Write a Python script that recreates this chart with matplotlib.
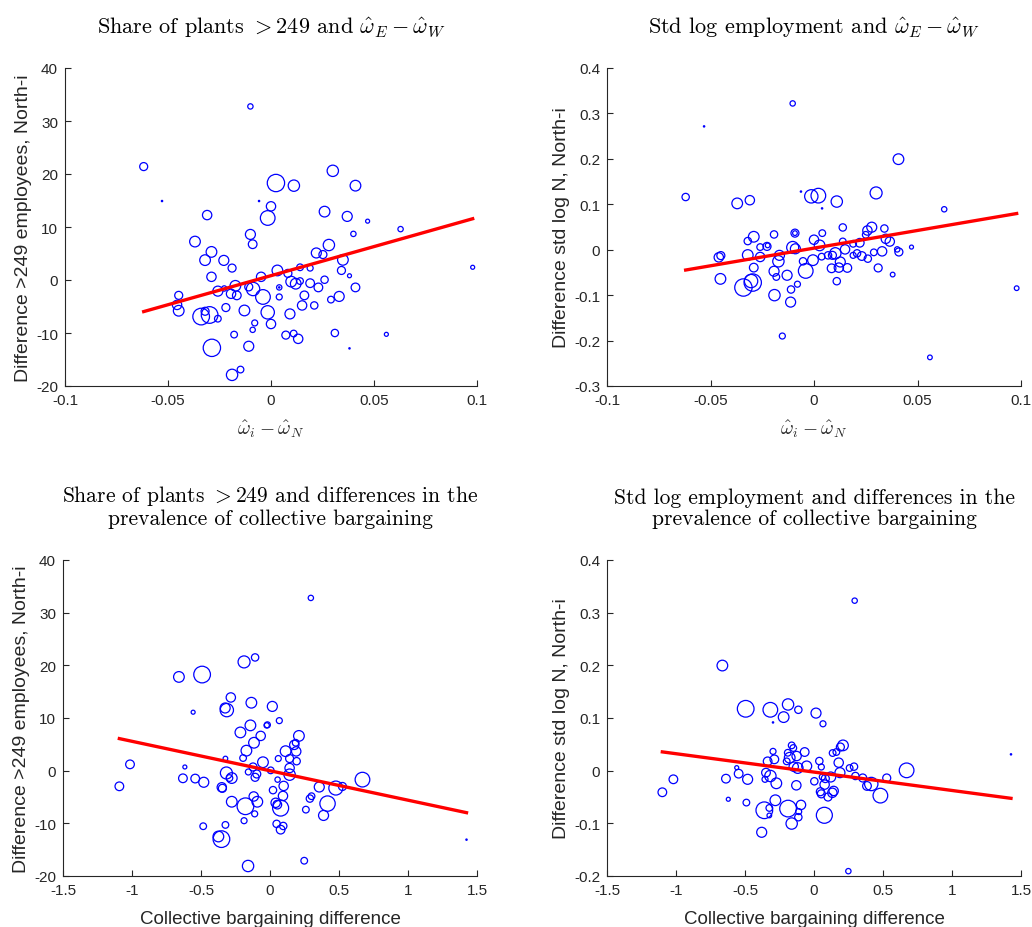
import matplotlib
matplotlib.use("Agg")
import matplotlib.pyplot as plt
import numpy as np

plt.rcParams['font.family'] = ['Liberation Sans', 'DejaVu Sans']
plt.rcParams['mathtext.fontset'] = 'cm'
plt.rcParams['axes.unicode_minus'] = False

# panel 1: share of plants >249 vs omega difference  (x, y, bubble weight)
tl = [
    (-0.010, 32.75, 8), (-0.0618, 21.4, 12), (-0.0529, 14.9, 2), (-0.0058, 14.9, 2),
    (-0.031, 12.25, 14), (-0.010, 8.6, 15), (-0.0089, 6.75, 13), (-0.0369, 7.25, 16),
    (-0.0289, 5.3, 16), (-0.032, 3.75, 16), (-0.0229, 3.7, 15), (-0.0189, 2.25, 12),
    (-0.0289, 0.6, 14), (-0.0048, 0.6, 14), (-0.0258, -2.1, 15), (-0.0227, -1.6, 8),
    (-0.0173, -1.1, 16), (-0.0194, -2.6, 14), (-0.0166, -2.9, 13), (-0.0108, -1.3, 12),
    (-0.0087, -1.7, 20), (-0.0039, -3.2, 22), (-0.0448, -2.9, 12), (-0.0456, -4.7, 14),
    (-0.0448, -5.8, 16), (-0.0339, -6.9, 25), (-0.0298, -6.6, 25), (-0.032, -5.9, 12),
    (-0.0258, -7.3, 10), (-0.0219, -5.2, 12), (-0.0129, -5.75, 16), (-0.0016, -6.1, 20),
    (-0.0079, -8.1, 9), (-0.0089, -9.4, 8), (0.0, -8.3, 14), (-0.0179, -10.3, 10),
    (-0.0108, -12.5, 15), (-0.0287, -12.8, 26), (-0.0189, -17.9, 17), (-0.0148, -16.9, 10),
    (0.030, 20.6, 17), (0.0024, 18.3, 26), (0.0111, 17.8, 17), (0.041, 17.8, 16),
    (0.0, 13.9, 14), (-0.0016, 11.7, 22), (0.026, 12.9, 16), (0.037, 12.0, 15),
    (0.0469, 11.1, 6), (0.0629, 9.6, 8), (0.040, 8.7, 8), (0.0281, 6.6, 17),
    (0.022, 5.1, 15), (0.0252, 4.8, 12), (0.0349, 3.8, 16), (0.0342, 1.8, 12),
    (0.0381, 0.8, 6), (0.0141, 2.4, 10), (0.019, 2.25, 9), (0.0031, 1.8, 16),
    (0.0082, 1.25, 12), (0.0098, -0.3, 16), (0.012, -0.7, 16), (0.0141, -0.2, 10),
    (0.019, -0.6, 13), (0.023, -1.4, 13), (0.026, 0.05, 11), (0.004, -1.4, 8),
    (0.004, -1.4, 2), (0.004, -3.2, 9), (0.0162, -2.9, 13), (0.0151, -4.8, 14),
    (0.021, -4.8, 11), (0.0291, -3.7, 10), (0.0331, -3.1, 15), (0.041, -1.4, 13),
    (0.0092, -6.4, 15), (0.0072, -10.4, 12), (0.011, -10.1, 10), (0.0132, -11.1, 14),
    (0.031, -10.0, 11), (0.056, -10.25, 6), (0.0381, -12.9, 2), (0.0979, 2.4, 6),
]

# panel 2: std log employment vs omega difference
tr = [
    (-0.0103, 0.322, 8), (-0.0531, 0.2715, 2), (-0.062, 0.116, 11), (-0.0371, 0.102, 16),
    (-0.031, 0.109, 14), (-0.0063, 0.128, 2), (-0.0291, 0.0285, 16), (-0.032, 0.019, 11),
    (-0.0193, 0.0336, 11), (-0.0092, 0.0365, 12), (-0.0092, 0.0365, 7), (-0.026, 0.0058, 10),
    (-0.0227, 0.0073, 12), (-0.0224, 0.0095, 7), (-0.0103, 0.005, 18), (-0.009, 0.002, 15),
    (-0.046, -0.0168, 14), (-0.045, -0.013, 12), (-0.032, -0.0117, 16), (-0.026, -0.016, 14),
    (-0.0167, -0.0124, 15), (-0.0172, -0.0255, 17), (-0.0053, -0.0255, 11), (-0.0291, -0.0394, 13),
    (-0.0193, -0.0474, 15), (-0.0182, -0.060, 10), (-0.013, -0.0562, 15), (-0.004, -0.0467, 22),
    (-0.0452, -0.0642, 16), (-0.0341, -0.0832, 26), (-0.0296, -0.0723, 26), (-0.0304, -0.069, 20),
    (-0.008, -0.0759, 9), (-0.0111, -0.0876, 11), (-0.0191, -0.100, 17), (-0.0113, -0.1153, 15),
    (-0.0153, -0.19, 9),
    (0.0408, 0.1993, 16), (0.0021, 0.119, 22), (-0.0013, 0.1175, 20), (0.011, 0.106, 17),
    (0.030, 0.125, 18), (0.0039, 0.091, 2), (0.0629, 0.089, 8), (0.0139, 0.049, 11),
    (0.004, 0.0365, 10), (0.0, 0.022, 14), (0.0027, 0.0095, 16), (0.0139, 0.0182, 10),
    (0.0279, 0.0496, 15), (0.0258, 0.0423, 14), (0.025, 0.0328, 10), (0.034, 0.0467, 11),
    (0.0347, 0.024, 14), (0.0366, 0.018, 14), (0.0221, 0.0153, 13), (0.015, 0.0007, 14),
    (0.0189, 0.013, 10), (0.0037, -0.0153, 10), (0.0068, -0.0124, 11), (0.0089, -0.0124, 12),
    (0.0103, -0.008, 17), (0.0189, -0.0124, 9), (0.0208, -0.008, 11), (0.0231, -0.0139, 13),
    (0.026, -0.0197, 11), (0.0289, -0.0058, 10), (0.0329, -0.0036, 14), (0.0402, 0.0007, 8),
    (0.041, -0.005, 12), (0.0471, 0.0058, 6), (-0.0005, -0.023, 16), (0.0127, -0.027, 15),
    (0.0085, -0.0409, 13), (0.012, -0.0394, 14), (0.0161, -0.0401, 13), (0.031, -0.0401, 12),
    (0.038, -0.0547, 7), (0.011, -0.0693, 11), (0.0979, -0.0847, 7), (0.056, -0.237, 7),
]

# panel 3: share of plants >249 vs collective bargaining difference
bl = [
    (-1.0916, -2.97, 13), (-1.0145, 1.2, 13), (-0.617, 0.7, 6), (-0.631, -1.45, 13),
    (-0.542, -1.5, 13), (-0.480, -2.2, 15), (-0.660, 17.8, 16), (-0.492, 18.25, 25),
    (-0.188, 20.65, 18), (-0.108, 21.5, 11), (-0.557, 11.1, 6), (-0.284, 13.9, 14),
    (-0.325, 11.9, 15), (-0.313, 11.5, 20), (-0.135, 12.9, 16), (-0.142, 8.6, 16),
    (-0.024, 8.6, 8), (-0.2145, 7.26, 16), (-0.0675, 6.6, 14), (-0.116, 5.3, 16),
    (-0.171, 3.8, 16), (-0.195, 2.4, 10), (-0.323, 2.3, 7), (-0.051, 1.6, 16),
    (-0.123, 0.7, 12), (-0.157, -0.25, 9), (-0.096, -0.63, 12), (-0.108, -1.26, 12),
    (-0.316, -0.44, 18), (-0.277, -1.4, 16), (-0.294, -1.4, 10), (-0.3494, -3.16, 14),
    (-0.345, -3.35, 12), (-0.277, -5.9, 16), (-0.178, -6.76, 25), (-0.118, -4.9, 14),
    (-0.092, -5.9, 16), (-0.111, -8.2, 9), (-0.188, -9.5, 9), (-0.323, -10.3, 10),
    (-0.484, -10.55, 10), (-0.352, -13.0, 25), (-0.374, -12.5, 16), (-0.159, -18.1, 17),
    (0.296, 32.8, 8), (0.0169, 12.2, 15), (0.0675, 9.5, 9), (-0.019, 8.7, 9),
    (0.2096, 6.6, 16), (0.176, 4.9, 14), (0.186, 5.3, 10), (0.113, 3.7, 16),
    (0.19, 3.66, 14), (0.060, 2.3, 9), (0.142, 2.3, 12), (0.193, 1.8, 11),
    (0.142, 0.5, 14), (0.005, 0.06, 10), (0.142, -0.76, 17), (0.055, -1.7, 8),
    (0.099, -2.9, 14), (0.0217, -3.7, 11), (0.094, -4.8, 14), (0.041, -6.1, 14),
    (0.053, -6.45, 13), (0.077, -7.1, 24), (0.289, -5.3, 11), (0.301, -4.85, 10),
    (0.260, -7.4, 10), (0.357, -3.1, 15), (0.477, -3.3, 21), (0.525, -3.0, 12),
    (0.670, -1.7, 22), (0.417, -6.25, 23), (0.388, -8.5, 15), (0.048, -10.1, 11),
    (0.096, -10.5, 11), (0.077, -11.2, 13), (0.248, -17.1, 10), (1.424, -13.1, 2),
]

# panel 4: std log employment vs collective bargaining difference
br = [
    (-1.099, -0.041, 13), (-1.019, -0.0164, 13), (-0.664, 0.1996, 16), (-0.621, -0.0543, 6),
    (-0.560, 0.0057, 6), (-0.546, -0.0057, 13), (-0.638, -0.0152, 13), (-0.481, -0.0164, 15),
    (-0.490, -0.0606, 10), (-0.495, 0.1175, 25), (-0.3164, 0.1156, 22), (-0.220, 0.1017, 16),
    (-0.188, 0.1257, 17), (-0.1135, 0.1156, 11), (-0.297, 0.0916, 2), (-0.1618, 0.048, 10),
    (-0.150, 0.043, 10), (-0.297, 0.0366, 9), (-0.0676, 0.0354, 13), (-0.190, 0.034, 10),
    (-0.126, 0.0278, 14), (-0.176, 0.0246, 16), (-0.198, 0.0177, 10), (-0.2874, 0.0215, 13),
    (-0.336, 0.0177, 13), (-0.147, 0.0076, 14), (-0.118, 0.005, 16), (-0.053, 0.0088, 15),
    (-0.348, -0.0038, 13), (-0.316, -0.0101, 17), (-0.355, -0.0164, 9), (-0.273, -0.024, 16),
    (-0.128, -0.0278, 14), (-0.280, -0.0562, 16), (-0.3237, -0.0708, 10), (-0.36, -0.0752, 25),
    (-0.3237, -0.085, 7), (-0.188, -0.072, 25), (-0.0942, -0.065, 14), (-0.111, -0.0777, 9),
    (-0.1135, -0.0884, 11), (-0.1618, -0.1004, 17), (-0.379, -0.117, 15),
    (0.2947, 0.3228, 8), (0.0145, 0.1093, 15), (0.065, 0.089, 9), (0.210, 0.048, 16),
    (0.191, 0.0449, 12), (0.162, 0.0354, 10), (0.135, 0.0335, 10), (0.0386, 0.0183, 11),
    (0.179, 0.0152, 14), (0.053, 0.007, 9), (0.258, 0.005, 10), (0.29, 0.0076, 11),
    (0.188, -0.0038, 15), (0.121, -0.012, 15), (0.082, -0.015, 12), (0.060, -0.012, 9),
    (0.0024, -0.0202, 11), (0.077, -0.0265, 14), (0.30, -0.0101, 11), (0.353, -0.0139, 12),
    (0.384, -0.029, 13), (0.415, -0.0253, 20), (0.527, -0.0139, 12), (0.671, 0.0006, 22),
    (0.481, -0.0474, 22), (0.046, -0.040, 12), (0.053, -0.044, 12), (0.1425, -0.0385, 14),
    (0.1014, -0.050, 12), (0.133, -0.042, 14), (0.075, -0.0847, 24), (0.249, -0.1908, 8),
    (1.4275, 0.031, 2),
]

# fitted lines: intercept, slope
fits = [(0.82, 109.7), (0.0035, 0.7776), (-0.015, -5.59), (-0.0027, -0.0349)]

titles = [
    r'Share of plants $>249$ and $\hat{\omega}_E - \hat{\omega}_W$',
    r'Std log employment and $\hat{\omega}_E - \hat{\omega}_W$',
    'Share of plants $>249$ and differences in the\nprevalence of collective bargaining',
    'Std log employment and differences in the\nprevalence of collective bargaining',
]
ylabels = ['Difference >249 employees, North-i', 'Difference std log N, North-i'] * 2
xlabels = [r'$\hat{\omega}_i - \hat{\omega}_N$'] * 2 + ['Collective bargaining difference'] * 2
xlims = [(-0.1, 0.1), (-0.1, 0.1), (-1.5, 1.5), (-1.5, 1.5)]
ylims = [(-20, 40), (-0.3, 0.4), (-20, 40), (-0.2, 0.4)]
xticks = [[-0.1, -0.05, 0, 0.05, 0.1]] * 2 + [[-1.5, -1, -0.5, 0, 0.5, 1, 1.5]] * 2
yticks = [np.arange(-20, 41, 10), np.round(np.arange(-0.3, 0.41, 0.1), 1),
          np.arange(-20, 41, 10), np.round(np.arange(-0.2, 0.41, 0.1), 1)]

rects = [
    [65/1032, 541/928, 412/1032, 318/928],
    [607/1032, 541/928, 414/1032, 318/928],
    [63/1032, 51/928, 414/1032, 316/928],
    [607/1032, 51/928, 414/1032, 316/928],
]

def fmt(v):
    s = ('%g' % v)
    return s

fig = plt.figure(figsize=(10.32, 9.28), dpi=100)
gray = '#262626'
for i, data in enumerate([tl, tr, bl, br]):
    ax = fig.add_axes(rects[i])
    x = np.array([d[0] for d in data])
    y = np.array([d[1] for d in data])
    w = np.array([d[2] for d in data])
    ax.scatter(x, y, s=(0.48 * w) ** 2, facecolors='none', edgecolors='blue', linewidths=0.9)
    a, b = fits[i]
    xx = np.array([x.min(), x.max()])
    ax.plot(xx, a + b * xx, color='red', lw=2.4)
    ax.set_xlim(xlims[i])
    ax.set_ylim(ylims[i])
    ax.set_xticks(xticks[i])
    ax.set_xticklabels([fmt(v) for v in xticks[i]])
    ax.set_yticks(yticks[i])
    ax.set_yticklabels([fmt(v) for v in yticks[i]])
    for s in ['top', 'right']:
        ax.spines[s].set_visible(False)
    for s in ['left', 'bottom']:
        ax.spines[s].set_color(gray)
        ax.spines[s].set_linewidth(0.8)
    ax.tick_params(direction='in', length=4, colors=gray, labelsize=11, pad=5)
    tsize = 16 if i < 2 else 15.5
    ax.set_title(titles[i], fontsize=tsize, fontfamily='cmr10', pad=26, linespacing=1.12)
    ax.set_ylabel(ylabels[i], fontsize=14, color=gray, labelpad=3)
    if i < 2:
        ax.set_xlabel(xlabels[i], fontsize=14, color=gray, labelpad=7)
    else:
        ax.set_xlabel(xlabels[i], fontsize=13.5, color=gray, labelpad=9.5)

fig.savefig('out.png', dpi=100)
